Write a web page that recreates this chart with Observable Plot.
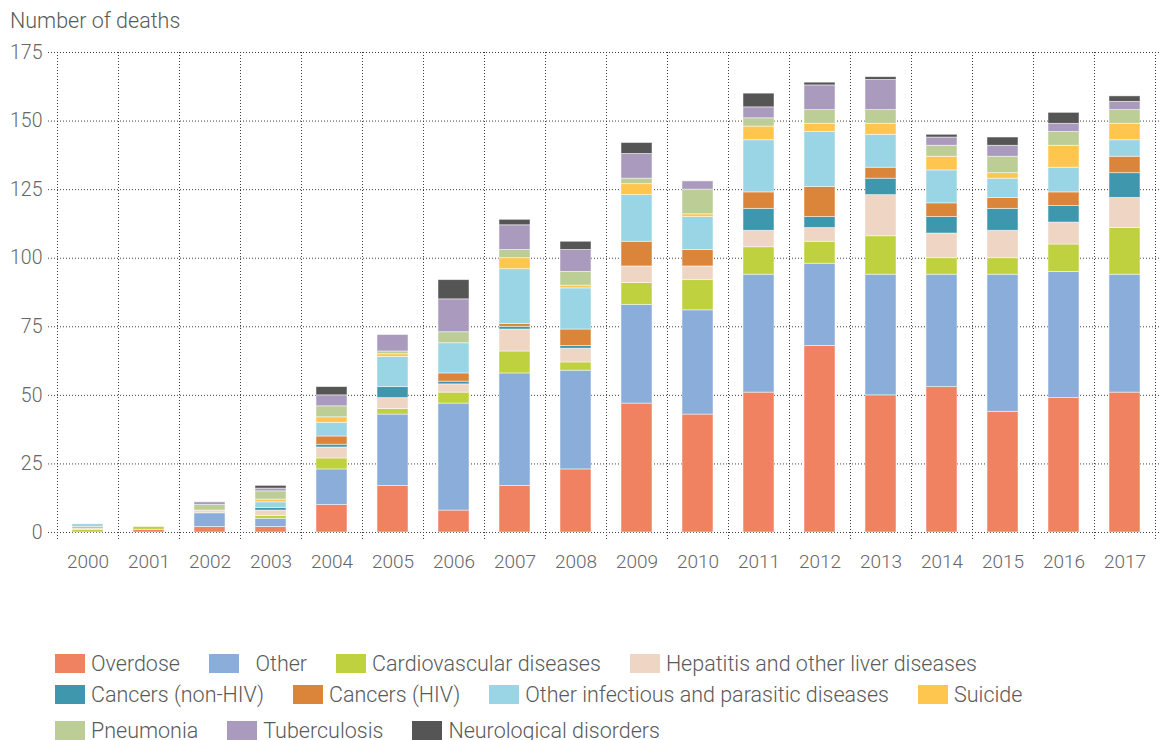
<!DOCTYPE html>
<html>
<head>
<meta charset="utf-8">
<script src="https://cdn.jsdelivr.net/npm/d3@7"></script>
<script src="https://cdn.jsdelivr.net/npm/@observablehq/plot@0.6"></script>
<style>
  html, body { margin: 0; padding: 0; background: #fff; }
  body { width: 1165px; height: 740px; overflow: hidden; font-family: Roboto, "Noto Sans", sans-serif; }
  #title { height: 40px; box-sizing: border-box; padding: 8px 0 0 10px; font-size: 21.5px; line-height: 26px; color: #5a5a5a; font-weight: 300; }
  #legend { padding: 48px 0 0 55px; font-size: 21.5px; color: #5a5a5a; font-weight: 300; }
  .row { display: flex; align-items: center; height: 31px; }
  .row.last { margin-top: 5px; }
  .item { display: flex; align-items: center; margin-right: 29px; }
  .sw { width: 30px; height: 19px; margin-right: 6px; }
</style>
</head>
<body>
<div id="title">Number of deaths</div>
<div id="chart"></div>
<div id="legend"></div>
<script>
const years = ["2000","2001","2002","2003","2004","2005","2006","2007","2008","2009","2010","2011","2012","2013","2014","2015","2016","2017"];
const seriesNames = ["Overdose","Other","Cardiovascular diseases","Hepatitis and other liver diseases","Cancers (non-HIV)","Cancers (HIV)","Other infectious and parasitic diseases","Suicide","Pneumonia","Tuberculosis","Neurological disorders"];
const seriesColors = ["#F08261","#8AADDA","#BFD13F","#EED5C4","#3F97AE","#DB853A","#99D5E5","#FFC64F","#BCCE96","#AA9BBE","#555555"];
const overdose      = [0,1,2,2,10,17,8,17,23,47,43,51,68,50,53,44,49,51];
const other         = [0,0,5,3,13,26,39,41,36,36,38,43,30,44,41,50,46,43];
const cardio        = [1,1,0,1,4,2,4,8,3,8,11,10,8,14,6,6,10,17];
const hepatitis     = [0.5,0,1,2,4,4,3,8,5,6,5,6,5,15,9,10,8,11];
const cancersNonHIV = [0,0,0,1,1,4,1,1,1,0,0,8,4,6,6,8,6,9];
const cancersHIV    = [0.5,0,0,0,3,0,3,1,6,9,6,6,11,4,5,4,5,6];
const infectious    = [1,0,0,2,5,11,11,20,15,17,12,19,20,12,12,7,9,6];
const suicide       = [0,0,0,1,2,1,0,4,1,4,1,5,3,4,5,2,8,6];
const pneumonia     = [0,0,2,3,4,1,4,3,5,2,9,3,5,5,4,6,5,5];
const tuberculosis  = [0,0,1,1,4,6,12,9,8,9,3,4,9,11,3,4,3,3];
const neuro         = [0,0,0,1,3,0,7,2,3,4,0,5,1,1,1,3,4,2];
const yTicks = [0,25,50,75,100,125,150,175];

const seriesValues = [overdose, other, cardio, hepatitis, cancersNonHIV, cancersHIV, infectious, suicide, pneumonia, tuberculosis, neuro];
const data = seriesNames.flatMap((name, i) => years.map((year, j) => ({year, series: name, value: seriesValues[i][j]})));

const dotted = {stroke: "#333", strokeDasharray: "1,2", strokeWidth: 1, strokeOpacity: 0.95};

const plot = Plot.plot({
  width: 1165,
  height: 560,
  marginTop: 12,
  marginLeft: 53,
  marginRight: 7,
  marginBottom: 68,
  style: {fontFamily: "Roboto, 'Noto Sans', sans-serif", fontSize: "19px", color: "#666", background: "#fff"},
  x: {domain: years, paddingInner: 0.5, paddingOuter: 0.25, label: null},
  y: {domain: [0, 175], label: null},
  color: {domain: seriesNames, range: seriesColors},
  marks: [
    Plot.ruleY(yTicks, {y: d => d, ...dotted, insetLeft: -5, insetRight: -2}),
    Plot.barY(data, {x: "year", y: "value", fill: "series", stroke: "#ffffff", strokeOpacity: 0.6, strokeWidth: 0.8}),
    Plot.axisY(yTicks, {tickSize: 0, tickPadding: 11, fontSize: 19.5, fill: "#666", fontWeight: 300}),
    Plot.axisX({tickSize: 0, tickPadding: 22, fontSize: 19, fill: "#666", fontWeight: 300})
  ]
});

// vertical dotted grid lines at band boundaries, using the plot's own x scale
const xs = plot.scale("x");
const ys = plot.scale("y");
const svg = d3.select(plot.tagName === "svg" ? plot : plot.querySelector("svg"));
const half = (xs.step - xs.bandwidth) / 2;
const bounds = years.map(y => xs.apply(y) - half);
bounds.push(xs.apply(years[years.length - 1]) + xs.bandwidth + half);
svg.insert("g", ":first-child")
  .selectAll("line").data(bounds).join("line")
  .attr("x1", d => Math.round(d) + 0.5).attr("x2", d => Math.round(d) + 0.5)
  .attr("y1", ys.apply(175)).attr("y2", ys.apply(0) + 9)
  .attr("stroke", "#333").attr("stroke-dasharray", "1,2").attr("stroke-opacity", 0.95);
svg.selectAll("g[aria-label='bar']").raise();
svg.selectAll("g[aria-label='y-axis tick label'], g[aria-label='x-axis tick label']").raise();

document.getElementById("chart").appendChild(plot);

// legend
const rows = [[0,1,2,3],[4,5,6,7],[8,9,10]];
const legend = document.getElementById("legend");
rows.forEach((r, ri) => {
  const row = document.createElement("div");
  row.className = "row" + (ri === 2 ? " last" : "");
  r.forEach(i => {
    const it = document.createElement("div");
    it.className = "item";
    const sw = document.createElement("div");
    sw.className = "sw";
    sw.style.background = seriesColors[i];
    const tx = document.createElement("span");
    tx.textContent = (i === 1 ? "\u00a0\u00a0" : "") + seriesNames[i];
    it.appendChild(sw); it.appendChild(tx);
    row.appendChild(it);
  });
  legend.appendChild(row);
});
</script>
</body>
</html>
